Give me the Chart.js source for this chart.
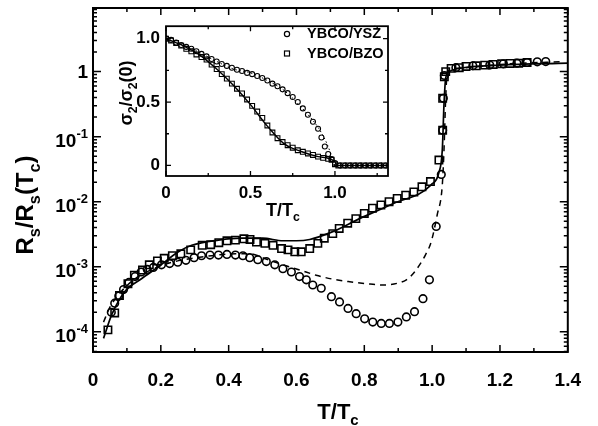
<!DOCTYPE html>
<html>
<head>
<meta charset="utf-8">
<script src="https://cdn.jsdelivr.net/npm/chart.js@4"></script>
<style>
  body { margin: 0; background: #fff; }
  #wrap { position: relative; width: 598px; height: 426px; }
  #main { position: absolute; left: 0; top: 0; }
  #inset { position: absolute; left: 100px; top: 10px; }
</style>
</head>
<body>
<div id="wrap">
  <canvas id="main" width="598" height="426"></canvas>
  <canvas id="inset" width="295" height="222"></canvas>
</div>
<script>
const FONT = "'Liberation Sans', Arial, sans-serif";

// main panel: T/Tc and log10(Rs/Rs(Tc))
const yszMainX = [0.054,0.064,0.076,0.090,0.106,0.124,0.142,0.160,0.178,0.202,0.226,0.250,0.274,0.298,0.320,0.345,0.370,0.395,0.420,0.442,0.462,0.486,0.511,0.536,0.560,0.585,0.609,0.629,0.648,0.673,0.703,0.727,0.752,0.776,0.801,0.825,0.850,0.874,0.899,0.924,0.948,0.973,0.992,1.012,1.027,1.031,1.033,1.036,1.070,1.120,1.170,1.210,1.250,1.280,1.310,1.335];
const yszMainLog = [-3.70,-3.56,-3.45,-3.35,-3.24,-3.15,-3.08,-3.04,-3.01,-2.97,-2.95,-2.93,-2.90,-2.86,-2.83,-2.82,-2.82,-2.81,-2.82,-2.83,-2.86,-2.89,-2.92,-2.97,-3.03,-3.08,-3.15,-3.20,-3.28,-3.33,-3.46,-3.54,-3.64,-3.72,-3.80,-3.85,-3.87,-3.87,-3.85,-3.77,-3.69,-3.49,-3.20,-2.38,-1.58,-0.90,-0.41,-0.06,0.06,0.09,0.10,0.12,0.13,0.14,0.15,0.155];

const bzoMainX = [0.044,0.064,0.078,0.103,0.122,0.146,0.166,0.190,0.210,0.234,0.259,0.288,0.322,0.347,0.371,0.395,0.420,0.445,0.463,0.482,0.507,0.531,0.556,0.575,0.595,0.614,0.639,0.663,0.682,0.707,0.726,0.751,0.775,0.800,0.824,0.849,0.873,0.897,0.922,0.946,0.970,0.995,1.020,1.031,1.031,1.036,1.040,1.056,1.080,1.100,1.130,1.155,1.180,1.205,1.230,1.255,1.280];
const bzoMainLog = [-3.97,-3.71,-3.44,-3.26,-3.13,-3.05,-2.97,-2.91,-2.87,-2.83,-2.80,-2.74,-2.67,-2.66,-2.63,-2.60,-2.59,-2.57,-2.58,-2.62,-2.64,-2.67,-2.72,-2.74,-2.77,-2.77,-2.72,-2.64,-2.56,-2.49,-2.41,-2.33,-2.26,-2.18,-2.10,-2.05,-2.00,-1.95,-1.90,-1.85,-1.77,-1.69,-1.36,-0.90,-0.41,-0.08,0.00,0.05,0.06,0.08,0.09,0.10,0.11,0.12,0.125,0.13,0.14];

const bzoFitX = [0.031,0.055,0.094,0.144,0.193,0.252,0.291,0.370,0.438,0.500,0.560,0.600,0.639,0.707,0.786,0.884,0.997,1.020,1.030,1.035,1.040,1.050,1.080,1.200,1.400];
const bzoFitLog = [-4.10,-3.74,-3.38,-3.18,-3.00,-2.77,-2.67,-2.59,-2.56,-2.56,-2.60,-2.60,-2.58,-2.46,-2.26,-2.03,-1.74,-1.55,-1.20,-0.50,-0.10,0.00,0.05,0.10,0.13];

const yszFitX = [0.031,0.050,0.080,0.120,0.170,0.220,0.280,0.350,0.420,0.462,0.510,0.560,0.610,0.658,0.707,0.757,0.806,0.855,0.900,0.924,0.945,0.963,0.980,0.997,1.015,1.030,1.035,1.040,1.045,1.070,1.200,1.390];
const yszFitLog = [-3.85,-3.62,-3.40,-3.20,-3.05,-2.95,-2.88,-2.83,-2.80,-2.80,-2.88,-2.97,-3.05,-3.13,-3.19,-3.23,-3.26,-3.28,-3.25,-3.20,-3.10,-2.97,-2.82,-2.62,-2.20,-1.74,-1.20,-0.40,0.00,0.05,0.11,0.155];

const mainXTicks = [0, 0.2, 0.4, 0.6, 0.8, 1.0, 1.2, 1.4];
const mainYExps = [0, -1, -2, -3, -4];

// inset: sigma2/sigma2(0)
const yszInsetX = [0.00,0.03,0.06,0.09,0.12,0.15,0.18,0.21,0.24,0.27,0.30,0.33,0.36,0.39,0.42,0.45,0.48,0.51,0.54,0.57,0.60,0.63,0.66,0.69,0.72,0.75,0.78,0.81,0.84,0.87,0.90,0.92,0.94,0.96,0.98,1.00,1.03,1.06,1.09,1.12,1.15,1.18,1.21,1.24,1.27,1.30];
const yszInsetY = [1.00,0.99,0.97,0.95,0.935,0.92,0.90,0.88,0.86,0.84,0.82,0.80,0.785,0.77,0.755,0.745,0.73,0.72,0.705,0.69,0.67,0.645,0.625,0.60,0.57,0.54,0.50,0.45,0.40,0.345,0.29,0.22,0.15,0.09,0.05,0.02,0,0,0,0,0,0,0,0,0,0];

const bzoInsetX = [0.00,0.03,0.06,0.09,0.12,0.15,0.18,0.21,0.24,0.27,0.30,0.33,0.36,0.39,0.42,0.45,0.48,0.51,0.54,0.57,0.60,0.63,0.66,0.69,0.72,0.75,0.78,0.81,0.84,0.87,0.90,0.93,0.96,0.98,1.00,1.02,1.05,1.08,1.11,1.14,1.17,1.20,1.23,1.26,1.29];
const bzoInsetY = [1.00,0.985,0.965,0.945,0.92,0.90,0.875,0.855,0.835,0.795,0.76,0.72,0.685,0.645,0.605,0.568,0.52,0.47,0.425,0.375,0.315,0.26,0.215,0.185,0.16,0.14,0.12,0.108,0.095,0.083,0.07,0.06,0.052,0.045,0.01,0,0,0,0,0,0,0,0,0,0];

const bzoInsetFitX = [0,0.1,0.2,0.3,0.4,0.5,0.6,0.7,0.8,0.9,1.0,1.01,1.314];
const bzoInsetFitY = [1,0.945,0.87,0.76,0.63,0.48,0.31,0.17,0.11,0.07,0.03,0,0];
const yszInsetFitX = [0,0.1,0.2,0.3,0.4,0.5,0.6,0.7,0.8,0.9,0.95,1.0];
const yszInsetFitY = [1,0.95,0.89,0.82,0.76,0.73,0.67,0.59,0.46,0.30,0.18,0];

const insetTicks = [0, 0.5, 1.0];

const pairs = (xs, ys) => xs.map((x, i) => ({ x: x, y: ys[i] }));
const pairsLog = (xs, ls) => xs.map((x, i) => ({ x: x, y: Math.pow(10, ls[i]) }));

function richText(ctx, parts, x, y, size, bold, rotate) {
  const f = s => (bold ? 'bold ' : '') + s + 'px ' + FONT;
  let w = 0;
  parts.forEach(p => { ctx.font = f(p[1] ? size * 0.68 : size); w += ctx.measureText(p[0]).width; });
  ctx.save();
  ctx.translate(x, y);
  if (rotate) ctx.rotate(-Math.PI / 2);
  ctx.textAlign = 'left';
  ctx.textBaseline = 'alphabetic';
  ctx.fillStyle = '#000';
  let cx = -w / 2;
  parts.forEach(p => {
    const s = p[1] ? size * 0.68 : size;
    ctx.font = f(s);
    const dy = p[1] === 1 ? size * 0.28 : (p[1] === 2 ? -size * 0.42 : 0);
    ctx.fillText(p[0], cx, dy);
    cx += ctx.measureText(p[0]).width;
  });
  ctx.restore();
}

const mainDecor = {
  id: 'mainDecor',
  afterDraw(chart) {
    const ctx = chart.ctx, a = chart.chartArea, x = chart.scales.x, y = chart.scales.y;
    ctx.save();
    ctx.strokeStyle = '#000';
    ctx.lineWidth = 1.5;
    ctx.beginPath();
    for (let i = 0; i <= 14; i++) {
      const p = x.getPixelForValue(i / 10), len = i % 2 === 0 ? 7 : 4;
      ctx.moveTo(p, a.bottom); ctx.lineTo(p, a.bottom - len);
      ctx.moveTo(p, a.top); ctx.lineTo(p, a.top + len);
    }
    for (let e = -5; e <= 0; e++) {
      for (let m = 1; m <= 9; m++) {
        const v = m * Math.pow(10, e);
        if (v < y.min || v > y.max) continue;
        const p = y.getPixelForValue(v), len = m === 1 ? 8 : 4;
        ctx.moveTo(a.left, p); ctx.lineTo(a.left + len, p);
        ctx.moveTo(a.right, p); ctx.lineTo(a.right - len, p);
      }
    }
    ctx.stroke();
    ctx.lineWidth = 2;
    ctx.strokeRect(a.left, a.top, a.right - a.left, a.bottom - a.top);

    // y tick labels with superscript exponents
    ctx.fillStyle = '#000';
    ctx.textAlign = 'right';
    ctx.textBaseline = 'alphabetic';
    const rx = a.left - 5;
    mainYExps.forEach(e => {
      const p = y.getPixelForValue(Math.pow(10, e));
      if (e === 0) {
        ctx.font = 'bold 19px ' + FONT;
        ctx.fillText('1', rx, p + 6.5);
      } else {
        const ex = '-' + (-e);
        ctx.font = 'bold 13px ' + FONT;
        const ew = ctx.measureText(ex).width;
        ctx.fillText(ex, rx, p + 1.5);
        ctx.font = 'bold 19px ' + FONT;
        ctx.fillText('10', rx - ew, p + 10);
      }
    });
    richText(ctx, [['R', 0], ['s', 1], ['/R', 0], ['s', 1], ['(T', 0], ['c', 1], [')', 0]], 33, 205, 24, true, true);
    richText(ctx, [['T/T', 0], ['c', 1]], 338, 419, 22, true, false);
    ctx.restore();
  }
};

const insetDecor = {
  id: 'insetDecor',
  afterDraw(chart) {
    const ctx = chart.ctx, a = chart.chartArea, x = chart.scales.x, y = chart.scales.y;
    ctx.save();
    ctx.strokeStyle = '#000';
    ctx.lineWidth = 1.3;
    ctx.beginPath();
    [0, 0.25, 0.5, 0.75, 1.0, 1.25].forEach((v, i) => {
      const p = x.getPixelForValue(v), len = i % 2 === 0 ? 5 : 3;
      ctx.moveTo(p, a.bottom); ctx.lineTo(p, a.bottom - len);
      ctx.moveTo(p, a.top); ctx.lineTo(p, a.top + len);
    });
    [0, 0.25, 0.5, 0.75, 1.0].forEach((v, i) => {
      const p = y.getPixelForValue(v), len = i % 2 === 0 ? 5 : 3;
      ctx.moveTo(a.left, p); ctx.lineTo(a.left + len, p);
      ctx.moveTo(a.right, p); ctx.lineTo(a.right - len, p);
    });
    ctx.stroke();
    ctx.lineWidth = 1.8;
    ctx.strokeRect(a.left, a.top, a.right - a.left, a.bottom - a.top);

    // legend
    ctx.lineWidth = 1.2;
    ctx.beginPath();
    ctx.arc(187, 24, 2.6, 0, Math.PI * 2);
    ctx.stroke();
    ctx.strokeRect(184.5, 41, 5, 5);
    ctx.fillStyle = '#000';
    ctx.font = 'bold 14.5px ' + FONT;
    ctx.textAlign = 'left';
    ctx.textBaseline = 'middle';
    ctx.fillText(chart.data.datasets[0].label, 207, 24);
    ctx.fillText(chart.data.datasets[1].label, 207, 44);

    richText(ctx, [['\u03c3', 0], ['2', 1], ['/\u03c3', 0], ['2', 1], ['(0)', 0]], 32, 83, 18, true, true);
    richText(ctx, [['T/T', 0], ['c', 1]], 183, 206, 18, true, false);
    ctx.restore();
  }
};

const hollow = 'rgba(0,0,0,0)';

new Chart(document.getElementById('main'), {
  type: 'scatter',
  data: {
    datasets: [
      { label: 'YBCO/YSZ', data: pairsLog(yszMainX, yszMainLog), pointStyle: 'circle', pointRadius: 3.8,
        borderColor: '#000', backgroundColor: hollow, borderWidth: 1.6, showLine: false },
      { label: 'YBCO/BZO', data: pairsLog(bzoMainX, bzoMainLog), pointStyle: 'rect', pointRadius: 5.2,
        borderColor: '#000', backgroundColor: hollow, borderWidth: 1.6, showLine: false },
      { label: 'BZO fit', data: pairsLog(bzoFitX, bzoFitLog), showLine: true, pointRadius: 0,
        borderColor: '#000', borderWidth: 1.7, cubicInterpolationMode: 'monotone' },
      { label: 'YSZ fit', data: pairsLog(yszFitX, yszFitLog), showLine: true, pointRadius: 0,
        borderColor: '#000', borderWidth: 1.5, borderDash: [6, 5], cubicInterpolationMode: 'monotone' }
    ]
  },
  options: {
    responsive: false,
    animation: false,
    layout: { padding: { top: 8, right: 30, left: 0, bottom: 0 } },
    plugins: { legend: { display: false }, tooltip: { enabled: false } },
    scales: {
      x: {
        type: 'linear', min: 0, max: 1.4,
        grid: { display: false, drawTicks: false }, border: { display: false },
        afterBuildTicks: s => { s.ticks = mainXTicks.map(v => ({ value: v })); },
        ticks: { padding: 17, color: '#000', maxRotation: 0, autoSkip: false,
                 font: { family: FONT, size: 19, weight: 'bold' },
                 callback: v => v === 0 ? '0' : v.toFixed(1) },
        afterFit: s => { s.height = 74; }
      },
      y: {
        type: 'logarithmic', min: 4.9e-5, max: 9.5,
        grid: { display: false, drawTicks: false }, border: { display: false },
        ticks: { display: false },
        afterFit: s => { s.width = 93; }
      }
    }
  },
  plugins: [mainDecor]
});

new Chart(document.getElementById('inset'), {
  type: 'scatter',
  data: {
    datasets: [
      { label: 'YBCO/YSZ', data: pairs(yszInsetX, yszInsetY), pointStyle: 'circle', pointRadius: 2.5,
        borderColor: '#000', backgroundColor: hollow, borderWidth: 1.1, showLine: false },
      { label: 'YBCO/BZO', data: pairs(bzoInsetX, bzoInsetY), pointStyle: 'rect', pointRadius: 3.4,
        borderColor: '#000', backgroundColor: hollow, borderWidth: 1.1, showLine: false },
      { label: 'BZO fit', data: pairs(bzoInsetFitX, bzoInsetFitY), showLine: true, pointRadius: 0,
        borderColor: '#000', borderWidth: 1.4, cubicInterpolationMode: 'monotone' },
      { label: 'YSZ fit', data: pairs(yszInsetFitX, yszInsetFitY), showLine: true, pointRadius: 0,
        borderColor: '#000', borderWidth: 1, borderDash: [1.5, 2.5], cubicInterpolationMode: 'monotone' }
    ]
  },
  options: {
    responsive: false,
    animation: false,
    layout: { padding: { top: 10, right: 7, left: 0, bottom: 0 } },
    plugins: { legend: { display: false }, tooltip: { enabled: false } },
    scales: {
      x: {
        type: 'linear', min: 0, max: 1.314,
        grid: { display: false, drawTicks: false }, border: { display: false },
        afterBuildTicks: s => { s.ticks = insetTicks.map(v => ({ value: v })); },
        ticks: { padding: 7, color: '#000', maxRotation: 0, autoSkip: false,
                 font: { family: FONT, size: 17, weight: 'bold' },
                 callback: v => v === 0 ? '0' : v.toFixed(1) },
        afterFit: s => { s.height = 56; }
      },
      y: {
        type: 'linear', min: -0.083, max: 1.098,
        grid: { display: false, drawTicks: false }, border: { display: false },
        afterBuildTicks: s => { s.ticks = insetTicks.map(v => ({ value: v })); },
        ticks: { padding: 6, color: '#000', autoSkip: false,
                 font: { family: FONT, size: 17, weight: 'bold' },
                 callback: v => v === 0 ? '0' : v.toFixed(1) },
        afterFit: s => { s.width = 66; }
      }
    }
  },
  plugins: [insetDecor]
});
</script>
</body>
</html>
